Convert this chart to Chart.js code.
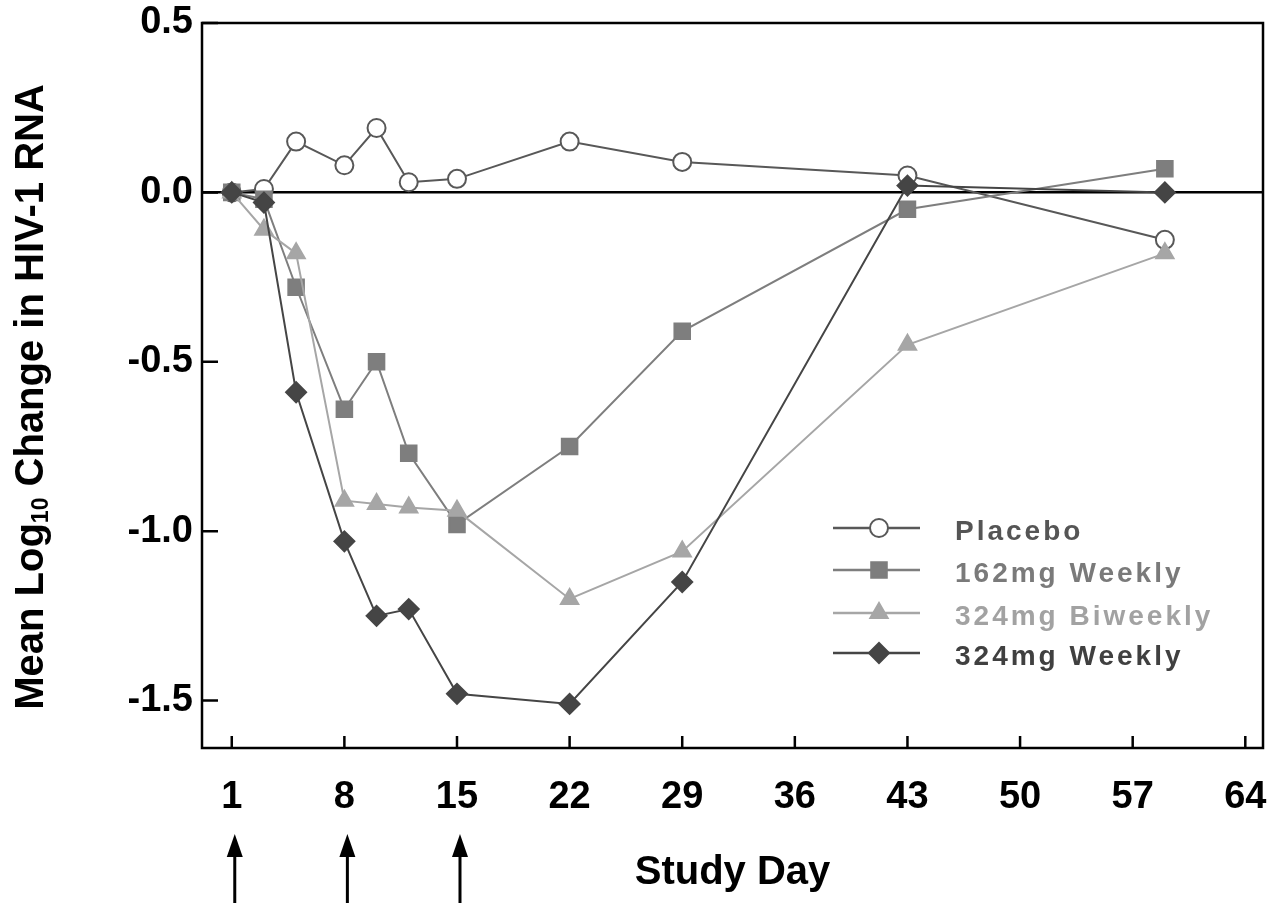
<!DOCTYPE html>
<html lang="en">
<head>
  <meta charset="UTF-8">
  <title>Mean Log10 Change in HIV-1 RNA</title>
  <script src="https://cdn.jsdelivr.net/npm/chart.js"></script>
  <style>
    body {
      margin: 0;
      background: white;
    }
    #wrap {
      width: 1280px;
      height: 903px;
    }
  </style>
</head>
<body>
  <div id="wrap">
    <canvas id="rnaChart" width="1280" height="903"></canvas>
  </div>

  <script>
    // study days where samples were taken
    const days = [1, 3, 5, 8, 10, 12, 15, 22, 29, 43, 59];

    // mean log10 change per group
    const placebo     = [0.00,  0.01,  0.15,  0.08,  0.19,  0.03,  0.04,  0.15,  0.09,  0.05, -0.14];
    const weekly162   = [0.00, -0.02, -0.28, -0.64, -0.50, -0.77, -0.98, -0.75, -0.41, -0.05,  0.07];
    const biweekly324 = [0.00, -0.11, -0.18, -0.91, -0.92, -0.93, -0.94, -1.20, -1.06, -0.45, -0.18];
    const weekly324   = [0.00, -0.03, -0.59, -1.03, -1.25, -1.23, -1.48, -1.51, -1.15,  0.02,  0.00];

    const seriesNames = ['Placebo', '162mg Weekly', '324mg Biweekly', '324mg Weekly'];
    const xTicks = [1, 8, 15, 22, 29, 36, 43, 50, 57, 64];
    const yTicks = [0.5, 0.0, -0.5, -1.0, -1.5];
    const doseDays = [1, 8, 15];

    const FONT = '"Liberation Sans", Arial, sans-serif';

    function pts(values) {
      return days.map((d, i) => ({ x: d, y: values[i] }));
    }

    // frame, inner tick marks, y title, dosing arrows, legend
    const extras = {
      id: 'extras',
      afterDraw(chart) {
        const ctx = chart.ctx;
        const a = chart.chartArea;
        const xs = chart.scales.x;
        const ys = chart.scales.y;
        ctx.save();

        // frame
        ctx.strokeStyle = '#000';
        ctx.lineWidth = 2.5;
        ctx.strokeRect(a.left, a.top, a.right - a.left, a.bottom - a.top);

        // inward ticks
        ctx.beginPath();
        xTicks.forEach(t => {
          const px = xs.getPixelForValue(t);
          ctx.moveTo(px, a.bottom);
          ctx.lineTo(px, a.bottom - 12);
        });
        yTicks.forEach(t => {
          const py = ys.getPixelForValue(t);
          ctx.moveTo(a.left, py);
          ctx.lineTo(a.left + 16, py);
        });
        ctx.stroke();

        // dosing arrows
        ctx.fillStyle = '#000';
        doseDays.forEach(d => {
          const px = xs.getPixelForValue(d) + 3;
          ctx.lineWidth = 3;
          ctx.beginPath();
          ctx.moveTo(px, 903);
          ctx.lineTo(px, 852);
          ctx.stroke();
          ctx.beginPath();
          ctx.moveTo(px, 834);
          ctx.lineTo(px - 8, 857);
          ctx.lineTo(px + 8, 857);
          ctx.closePath();
          ctx.fill();
        });

        // y axis title with subscript
        const big = 'bold 40px ' + FONT;
        const small = 'bold 23px ' + FONT;
        const parts = [['Mean Log', big, 0], ['10', small, 10], [' Change in HIV-1 RNA', big, 0]];
        let total = 0;
        parts.forEach(p => { ctx.font = p[1]; total += ctx.measureText(p[0]).width; });
        ctx.translate(32, 397);
        ctx.rotate(-Math.PI / 2);
        ctx.textBaseline = 'middle';
        ctx.fillStyle = '#000';
        let cx = -total / 2;
        parts.forEach(p => {
          ctx.font = p[1];
          ctx.fillText(p[0], cx, p[2]);
          cx += ctx.measureText(p[0]).width;
        });
        ctx.setTransform(1, 0, 0, 1, 0, 0);

        // legend
        const rows = [528, 570, 613, 653];
        chart.data.datasets.forEach((ds, i) => {
          const y = rows[i];
          ctx.strokeStyle = ds.borderColor;
          ctx.lineWidth = 2.5;
          ctx.beginPath();
          ctx.moveTo(833, y);
          ctx.lineTo(920, y);
          ctx.stroke();
          ctx.fillStyle = ds.pointBackgroundColor;
          ctx.strokeStyle = ds.borderColor;
          ctx.lineWidth = 2;
          Chart.helpers.drawPoint(ctx, {
            pointStyle: ds.pointStyle,
            radius: ds.pointRadius,
            borderWidth: 2,
            rotation: 0
          }, 879, y);
          ctx.font = 'bold 28px ' + FONT;
          ctx.letterSpacing = '3px';
          ctx.textBaseline = 'alphabetic';
          ctx.textAlign = 'left';
          ctx.fillStyle = ds.textColor;
          ctx.fillText(ds.label, 955, y + 12);
        });
        ctx.restore();
      }
    };

    const ctx = document.getElementById('rnaChart').getContext('2d');
    new Chart(ctx, {
      type: 'line',
      data: {
        datasets: [
          {
            label: seriesNames[0],
            data: pts(placebo),
            order: 3,
            borderColor: '#585858',
            pointBackgroundColor: '#ffffff',
            pointBorderColor: '#585858',
            textColor: '#555555',
            pointStyle: 'circle',
            pointRadius: 9
          },
          {
            label: seriesNames[1],
            data: pts(weekly162),
            order: 2,
            borderColor: '#7e7e7e',
            pointBackgroundColor: '#7e7e7e',
            pointBorderColor: '#7e7e7e',
            textColor: '#7a7a7a',
            pointStyle: 'rect',
            pointRadius: 11
          },
          {
            label: seriesNames[2],
            data: pts(biweekly324),
            order: 1,
            borderColor: '#a6a6a6',
            pointBackgroundColor: '#a6a6a6',
            pointBorderColor: '#a6a6a6',
            textColor: '#a2a2a2',
            pointStyle: 'triangle',
            pointRadius: 10
          },
          {
            label: seriesNames[3],
            data: pts(weekly324),
            order: 0,
            borderColor: '#454545',
            pointBackgroundColor: '#454545',
            pointBorderColor: '#454545',
            textColor: '#404040',
            pointStyle: 'rectRot',
            pointRadius: 10
          }
        ]
      },
      options: {
        responsive: false,
        animation: false,
        layout: { padding: { top: 23, right: 17, left: 0, bottom: 0 } },
        elements: {
          line: { borderWidth: 2, tension: 0 },
          point: { borderWidth: 2, hoverRadius: 10 }
        },
        plugins: {
          legend: { display: false },
          tooltip: { enabled: false }
        },
        scales: {
          x: {
            type: 'linear',
            min: -0.85,
            max: 65.1,
            afterBuildTicks: s => { s.ticks = xTicks.map(v => ({ value: v })); },
            afterFit: s => { s.height = 155; s.paddingLeft = 0; s.paddingRight = 0; },
            grid: { display: false, drawTicks: false },
            border: { display: false },
            ticks: {
              color: '#000',
              padding: 27,
              font: { family: FONT, size: 38, weight: 'bold' }
            },
            title: {
              display: true,
              text: 'Study Day',
              color: '#000',
              padding: { top: 0, bottom: 6 },
              font: { family: FONT, size: 40, weight: 'bold' }
            }
          },
          y: {
            min: -1.64,
            max: 0.5,
            afterBuildTicks: s => { s.ticks = yTicks.map(v => ({ value: v })); },
            afterFit: s => { s.width = 202; s.paddingTop = 0; s.paddingBottom = 0; },
            grid: {
              drawTicks: false,
              lineWidth: 2.5,
              color: c => (c.tick && c.tick.value === 0 ? '#000' : 'rgba(0,0,0,0)')
            },
            border: { display: false },
            ticks: {
              color: '#000',
              padding: 9,
              font: { family: FONT, size: 38, weight: 'bold' },
              callback: v => Number(v).toFixed(1)
            }
          }
        }
      },
      plugins: [extras]
    });
  </script>
</body>
</html>
